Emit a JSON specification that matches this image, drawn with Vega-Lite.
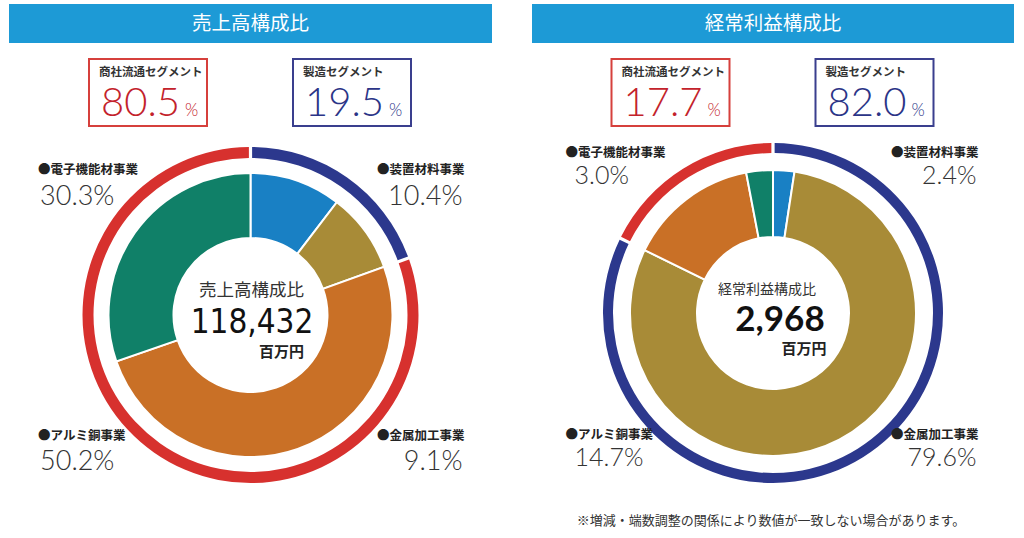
{
  "$schema": "https://vega.github.io/schema/vega-lite/v6.json",
  "padding": {"left": 9, "top": 4, "right": 0, "bottom": 0},
  "autosize": {"type": "pad"},
  "spacing": 40,
  "config": {"view": {"stroke": null}, "text": {"font": "Noto Sans CJK JP"}},
  "datasets": {
    "segments": [
      {"chart": "売上高構成比", "segment": "製造セグメント", "percent": 19.5},
      {"chart": "売上高構成比", "segment": "商社流通セグメント", "percent": 80.5},
      {"chart": "経常利益構成比", "segment": "製造セグメント", "percent": 82.0},
      {"chart": "経常利益構成比", "segment": "商社流通セグメント", "percent": 17.7}
    ],
    "businesses": [
      {"chart": "売上高構成比", "business": "装置材料事業", "ratio": 0.104},
      {"chart": "売上高構成比", "business": "金属加工事業", "ratio": 0.091},
      {"chart": "売上高構成比", "business": "アルミ銅事業", "ratio": 0.502},
      {"chart": "売上高構成比", "business": "電子機能材事業", "ratio": 0.303},
      {"chart": "経常利益構成比", "business": "装置材料事業", "ratio": 0.024},
      {"chart": "経常利益構成比", "business": "金属加工事業", "ratio": 0.796},
      {"chart": "経常利益構成比", "business": "アルミ銅事業", "ratio": 0.147},
      {"chart": "経常利益構成比", "business": "電子機能材事業", "ratio": 0.030}
    ],
    "totals": [
      {"chart": "売上高構成比", "total": 118432, "unit": "百万円"},
      {"chart": "経常利益構成比", "total": 2968, "unit": "百万円"}
    ],
    "notes": [
      {"note": "※増減・端数調整の関係により数値が一致しない場合があります。"}
    ]
  },
  "hconcat": [
    {
      "vconcat": [
        {
          "width": 483, "height": 39,
          "view": {"fill": "#1d9ad6", "stroke": null},
          "data": {"name": "totals"},
          "transform": [{"filter": {"field": "chart", "equal": "売上高構成比"}}],
          "mark": {"type": "text", "color": "#ffffff", "fontSize": 19.5, "baseline": "middle"},
          "encoding": {"text": {"field": "chart"}}
        },
        {
          "hconcat": [
            {
              "width": 118, "height": 67,
              "view": {"stroke": "#d6403c", "strokeWidth": 2, "fill": "#ffffff"},
              "data": {"name": "segments"},
              "transform": [{"filter": {"and": [{"field": "chart", "equal": "売上高構成比"}, {"field": "segment", "equal": "商社流通セグメント"}]}}],
              "layer": [
                {"mark": {"type": "text", "align": "left", "baseline": "middle", "dx": -49, "dy": -19.5, "fontSize": 11.5, "fontWeight": "bold", "color": "#333333"}, "encoding": {"text": {"field": "segment"}}},
                {"mark": {"type": "text", "align": "left", "baseline": "alphabetic", "dx": -47, "dy": 23.5, "fontSize": 40, "font": "Lato", "fontWeight": 300, "color": "#c3222b"}, "encoding": {"text": {"field": "percent", "type": "quantitative", "format": ".1f"}}},
                {"mark": {"type": "text", "align": "left", "baseline": "alphabetic", "dx": 37, "dy": 23.5, "fontSize": 17, "font": "Lato", "fontWeight": 300, "color": "#c3222b"}, "encoding": {"text": {"value": "%"}}}
              ]
            },
            {
              "width": 118, "height": 67,
              "view": {"stroke": "#3a3f8e", "strokeWidth": 2, "fill": "#ffffff"},
              "data": {"name": "segments"},
              "transform": [{"filter": {"and": [{"field": "chart", "equal": "売上高構成比"}, {"field": "segment", "equal": "製造セグメント"}]}}],
              "layer": [
                {"mark": {"type": "text", "align": "left", "baseline": "middle", "dx": -49, "dy": -19.5, "fontSize": 11.5, "fontWeight": "bold", "color": "#333333"}, "encoding": {"text": {"field": "segment"}}},
                {"mark": {"type": "text", "align": "left", "baseline": "alphabetic", "dx": -47, "dy": 23.5, "fontSize": 40, "font": "Lato", "fontWeight": 300, "color": "#2b3487"}, "encoding": {"text": {"field": "percent", "type": "quantitative", "format": ".1f"}}},
                {"mark": {"type": "text", "align": "left", "baseline": "alphabetic", "dx": 37, "dy": 23.5, "fontSize": 17, "font": "Lato", "fontWeight": 300, "color": "#2b3487"}, "encoding": {"text": {"value": "%"}}}
              ]
            }
          ],
          "spacing": 86,
          "bounds": "flush"
        },
        {
          "width": 483, "height": 346,
          "resolve": {"scale": {"theta": "independent"}},
          "layer": [
            {
              "data": {"name": "segments"},
              "transform": [{"filter": {"field": "chart", "equal": "売上高構成比"}}, {"window": [{"op": "row_number", "as": "rank"}]}],
              "mark": {"type": "arc", "innerRadius": 157, "outerRadius": 168, "padAngle": 0.014},
              "encoding": {
                "theta": {"field": "percent", "type": "quantitative", "stack": true},
                "order": {"field": "rank", "type": "quantitative"},
                "color": {"field": "segment", "type": "nominal", "legend": null,
                  "scale": {"domain": ["製造セグメント", "商社流通セグメント", "装置材料事業", "金属加工事業", "アルミ銅事業", "電子機能材事業"],
                            "range": ["#2c388d", "#d7312e", "#1980c4", "#a88b37", "#c97026", "#108068"]}}
              }
            },
            {
              "data": {"name": "businesses"},
              "transform": [{"filter": {"field": "chart", "equal": "売上高構成比"}}, {"window": [{"op": "row_number", "as": "rank"}]}],
              "mark": {"type": "arc", "innerRadius": 77, "outerRadius": 142, "stroke": "#ffffff", "strokeWidth": 2},
              "encoding": {
                "theta": {"field": "ratio", "type": "quantitative", "stack": true},
                "order": {"field": "rank", "type": "quantitative"},
                "color": {"field": "business", "type": "nominal", "legend": null,
                  "scale": {"domain": ["製造セグメント", "商社流通セグメント", "装置材料事業", "金属加工事業", "アルミ銅事業", "電子機能材事業"],
                            "range": ["#2c388d", "#d7312e", "#1980c4", "#a88b37", "#c97026", "#108068"]}}
              }
            },
            {
              "data": {"name": "totals"},
              "transform": [{"filter": {"field": "chart", "equal": "売上高構成比"}}],
              "mark": {"type": "text", "fontSize": 17.5, "color": "#333333", "baseline": "middle", "dx": 1, "dy": -24},
              "encoding": {"text": {"field": "chart"}}
            },
            {
              "data": {"name": "totals"},
              "transform": [{"filter": {"field": "chart", "equal": "売上高構成比"}}],
              "mark": {"type": "text", "font": "DejaVu Sans Condensed, Roboto", "fontSize": 33, "color": "#111111", "baseline": "alphabetic", "dx": 1.5, "dy": 18},
              "encoding": {"text": {"field": "total", "type": "quantitative", "format": ","}}
            },
            {
              "data": {"name": "totals"},
              "transform": [{"filter": {"field": "chart", "equal": "売上高構成比"}}],
              "mark": {"type": "text", "fontSize": 15, "fontWeight": "bold", "color": "#222222", "align": "right", "baseline": "middle", "dx": 53.5, "dy": 37},
              "encoding": {"text": {"field": "unit"}}
            },
            {
              "data": {"name": "businesses"},
              "transform": [{"filter": {"field": "chart", "equal": "売上高構成比"}}, {"filter": {"field": "business", "oneOf": ["アルミ銅事業", "電子機能材事業"]}}],
              "mark": {"type": "text", "radius": 188, "align": "left", "baseline": "middle", "dx": -79.5, "dy": -12, "fontSize": 12.5, "color": "#222222"},
              "encoding": {
                "theta": {"field": "business", "type": "nominal", "scale": {"type": "point", "domain": ["装置材料事業", "金属加工事業", "アルミ銅事業", "電子機能材事業"], "padding": 0.5}},
                "text": {"value": "●"}
              }
            },
            {
              "data": {"name": "businesses"},
              "transform": [{"filter": {"field": "chart", "equal": "売上高構成比"}}, {"filter": {"field": "business", "oneOf": ["アルミ銅事業", "電子機能材事業"]}}],
              "mark": {"type": "text", "radius": 188, "align": "left", "baseline": "middle", "dx": -67, "dy": -12, "fontSize": 12.5, "fontWeight": "bold", "color": "#222222"},
              "encoding": {
                "theta": {"field": "business", "type": "nominal", "scale": {"type": "point", "domain": ["装置材料事業", "金属加工事業", "アルミ銅事業", "電子機能材事業"], "padding": 0.5}},
                "text": {"field": "business"}
              }
            },
            {
              "data": {"name": "businesses"},
              "transform": [{"filter": {"field": "chart", "equal": "売上高構成比"}}, {"filter": {"field": "business", "oneOf": ["アルミ銅事業", "電子機能材事業"]}}],
              "mark": {"type": "text", "radius": 188, "align": "left", "baseline": "middle", "dx": -77.5, "dy": 14.5, "fontSize": 27, "font": "Lato", "fontWeight": 300, "color": "#333333"},
              "encoding": {
                "theta": {"field": "business", "type": "nominal", "scale": {"type": "point", "domain": ["装置材料事業", "金属加工事業", "アルミ銅事業", "電子機能材事業"], "padding": 0.5}},
                "text": {"field": "ratio", "type": "quantitative", "format": ".1%"}
              }
            },
            {
              "data": {"name": "businesses"},
              "transform": [{"filter": {"field": "chart", "equal": "売上高構成比"}}, {"filter": {"field": "business", "oneOf": ["装置材料事業", "金属加工事業"]}}],
              "mark": {"type": "text", "radius": 188, "align": "right", "baseline": "middle", "dx": 6, "dy": -12, "fontSize": 12.5, "color": "#222222"},
              "encoding": {
                "theta": {"field": "business", "type": "nominal", "scale": {"type": "point", "domain": ["装置材料事業", "金属加工事業", "アルミ銅事業", "電子機能材事業"], "padding": 0.5}},
                "text": {"value": "●"}
              }
            },
            {
              "data": {"name": "businesses"},
              "transform": [{"filter": {"field": "chart", "equal": "売上高構成比"}}, {"filter": {"field": "business", "oneOf": ["装置材料事業", "金属加工事業"]}}],
              "mark": {"type": "text", "radius": 188, "align": "right", "baseline": "middle", "dx": 81, "dy": -12, "fontSize": 12.5, "fontWeight": "bold", "color": "#222222"},
              "encoding": {
                "theta": {"field": "business", "type": "nominal", "scale": {"type": "point", "domain": ["装置材料事業", "金属加工事業", "アルミ銅事業", "電子機能材事業"], "padding": 0.5}},
                "text": {"field": "business"}
              }
            },
            {
              "data": {"name": "businesses"},
              "transform": [{"filter": {"field": "chart", "equal": "売上高構成比"}}, {"filter": {"field": "business", "oneOf": ["装置材料事業", "金属加工事業"]}}],
              "mark": {"type": "text", "radius": 188, "align": "right", "baseline": "middle", "dx": 79, "dy": 14.5, "fontSize": 27, "font": "Lato", "fontWeight": 300, "color": "#333333"},
              "encoding": {
                "theta": {"field": "business", "type": "nominal", "scale": {"type": "point", "domain": ["装置材料事業", "金属加工事業", "アルミ銅事業", "電子機能材事業"], "padding": 0.5}},
                "text": {"field": "ratio", "type": "quantitative", "format": ".1%"}
              }
            }
          ]
        }
      ],
      "spacing": 15,
      "center": true
    },
    {
      "vconcat": [
        {
          "width": 482, "height": 39,
          "view": {"fill": "#1d9ad6", "stroke": null},
          "data": {"name": "totals"},
          "transform": [{"filter": {"field": "chart", "equal": "経常利益構成比"}}],
          "mark": {"type": "text", "color": "#ffffff", "fontSize": 19.5, "baseline": "middle"},
          "encoding": {"text": {"field": "chart"}}
        },
        {
          "hconcat": [
            {
              "width": 118, "height": 67,
              "view": {"stroke": "#d6403c", "strokeWidth": 2, "fill": "#ffffff"},
              "data": {"name": "segments"},
              "transform": [{"filter": {"and": [{"field": "chart", "equal": "経常利益構成比"}, {"field": "segment", "equal": "商社流通セグメント"}]}}],
              "layer": [
                {"mark": {"type": "text", "align": "left", "baseline": "middle", "dx": -49, "dy": -19.5, "fontSize": 11.5, "fontWeight": "bold", "color": "#333333"}, "encoding": {"text": {"field": "segment"}}},
                {"mark": {"type": "text", "align": "left", "baseline": "alphabetic", "dx": -47, "dy": 23.5, "fontSize": 40, "font": "Lato", "fontWeight": 300, "color": "#c3222b"}, "encoding": {"text": {"field": "percent", "type": "quantitative", "format": ".1f"}}},
                {"mark": {"type": "text", "align": "left", "baseline": "alphabetic", "dx": 37, "dy": 23.5, "fontSize": 17, "font": "Lato", "fontWeight": 300, "color": "#c3222b"}, "encoding": {"text": {"value": "%"}}}
              ]
            },
            {
              "width": 118, "height": 67,
              "view": {"stroke": "#3a3f8e", "strokeWidth": 2, "fill": "#ffffff"},
              "data": {"name": "segments"},
              "transform": [{"filter": {"and": [{"field": "chart", "equal": "経常利益構成比"}, {"field": "segment", "equal": "製造セグメント"}]}}],
              "layer": [
                {"mark": {"type": "text", "align": "left", "baseline": "middle", "dx": -49, "dy": -19.5, "fontSize": 11.5, "fontWeight": "bold", "color": "#333333"}, "encoding": {"text": {"field": "segment"}}},
                {"mark": {"type": "text", "align": "left", "baseline": "alphabetic", "dx": -47, "dy": 23.5, "fontSize": 40, "font": "Lato", "fontWeight": 300, "color": "#2b3487"}, "encoding": {"text": {"field": "percent", "type": "quantitative", "format": ".1f"}}},
                {"mark": {"type": "text", "align": "left", "baseline": "alphabetic", "dx": 37, "dy": 23.5, "fontSize": 17, "font": "Lato", "fontWeight": 300, "color": "#2b3487"}, "encoding": {"text": {"value": "%"}}}
              ]
            }
          ],
          "spacing": 86,
          "bounds": "flush"
        },
        {
          "width": 482, "height": 342,
          "resolve": {"scale": {"theta": "independent"}},
          "layer": [
            {
              "data": {"name": "segments"},
              "transform": [{"filter": {"field": "chart", "equal": "経常利益構成比"}}, {"window": [{"op": "row_number", "as": "rank"}]}],
              "mark": {"type": "arc", "innerRadius": 160, "outerRadius": 170, "padAngle": 0.014},
              "encoding": {
                "theta": {"field": "percent", "type": "quantitative", "stack": true},
                "order": {"field": "rank", "type": "quantitative"},
                "color": {"field": "segment", "type": "nominal", "legend": null,
                  "scale": {"domain": ["製造セグメント", "商社流通セグメント", "装置材料事業", "金属加工事業", "アルミ銅事業", "電子機能材事業"],
                            "range": ["#2c388d", "#d7312e", "#1980c4", "#a88b37", "#c97026", "#108068"]}}
              }
            },
            {
              "data": {"name": "businesses"},
              "transform": [{"filter": {"field": "chart", "equal": "経常利益構成比"}}, {"window": [{"op": "row_number", "as": "rank"}]}],
              "mark": {"type": "arc", "innerRadius": 76, "outerRadius": 143, "stroke": "#ffffff", "strokeWidth": 2},
              "encoding": {
                "theta": {"field": "ratio", "type": "quantitative", "stack": true},
                "order": {"field": "rank", "type": "quantitative"},
                "color": {"field": "business", "type": "nominal", "legend": null,
                  "scale": {"domain": ["製造セグメント", "商社流通セグメント", "装置材料事業", "金属加工事業", "アルミ銅事業", "電子機能材事業"],
                            "range": ["#2c388d", "#d7312e", "#1980c4", "#a88b37", "#c97026", "#108068"]}}
              }
            },
            {
              "data": {"name": "totals"},
              "transform": [{"filter": {"field": "chart", "equal": "経常利益構成比"}}],
              "mark": {"type": "text", "fontSize": 14, "color": "#333333", "baseline": "middle", "dx": -6, "dy": -23},
              "encoding": {"text": {"field": "chart"}}
            },
            {
              "data": {"name": "totals"},
              "transform": [{"filter": {"field": "chart", "equal": "経常利益構成比"}}],
              "mark": {"type": "text", "font": "Lato", "fontWeight": "bold", "fontSize": 35, "color": "#111111", "baseline": "alphabetic", "dx": 7, "dy": 18},
              "encoding": {"text": {"field": "total", "type": "quantitative", "format": ","}}
            },
            {
              "data": {"name": "totals"},
              "transform": [{"filter": {"field": "chart", "equal": "経常利益構成比"}}],
              "mark": {"type": "text", "fontSize": 15, "fontWeight": "bold", "color": "#222222", "align": "right", "baseline": "middle", "dx": 53.5, "dy": 36},
              "encoding": {"text": {"field": "unit"}}
            },
            {
              "data": {"name": "businesses"},
              "transform": [{"filter": {"field": "chart", "equal": "経常利益構成比"}}, {"filter": {"field": "business", "oneOf": ["アルミ銅事業", "電子機能材事業"]}}],
              "mark": {"type": "text", "radius": 200, "align": "left", "baseline": "middle", "dx": -66, "dy": -19, "fontSize": 12.5, "color": "#222222"},
              "encoding": {
                "theta": {"field": "business", "type": "nominal", "scale": {"type": "point", "domain": ["装置材料事業", "金属加工事業", "アルミ銅事業", "電子機能材事業"], "padding": 0.5}},
                "text": {"value": "●"}
              }
            },
            {
              "data": {"name": "businesses"},
              "transform": [{"filter": {"field": "chart", "equal": "経常利益構成比"}}, {"filter": {"field": "business", "oneOf": ["アルミ銅事業", "電子機能材事業"]}}],
              "mark": {"type": "text", "radius": 200, "align": "left", "baseline": "middle", "dx": -53.5, "dy": -19, "fontSize": 12.5, "fontWeight": "bold", "color": "#222222"},
              "encoding": {
                "theta": {"field": "business", "type": "nominal", "scale": {"type": "point", "domain": ["装置材料事業", "金属加工事業", "アルミ銅事業", "電子機能材事業"], "padding": 0.5}},
                "text": {"field": "business"}
              }
            },
            {
              "data": {"name": "businesses"},
              "transform": [{"filter": {"field": "chart", "equal": "経常利益構成比"}}, {"filter": {"field": "business", "oneOf": ["アルミ銅事業", "電子機能材事業"]}}],
              "mark": {"type": "text", "radius": 200, "align": "left", "baseline": "middle", "dx": -57, "dy": 4, "fontSize": 25, "font": "Lato", "fontWeight": 300, "color": "#333333"},
              "encoding": {
                "theta": {"field": "business", "type": "nominal", "scale": {"type": "point", "domain": ["装置材料事業", "金属加工事業", "アルミ銅事業", "電子機能材事業"], "padding": 0.5}},
                "text": {"field": "ratio", "type": "quantitative", "format": ".1%"}
              }
            },
            {
              "data": {"name": "businesses"},
              "transform": [{"filter": {"field": "chart", "equal": "経常利益構成比"}}, {"filter": {"field": "business", "oneOf": ["装置材料事業", "金属加工事業"]}}],
              "mark": {"type": "text", "radius": 200, "align": "right", "baseline": "middle", "dx": -11, "dy": -19, "fontSize": 12.5, "color": "#222222"},
              "encoding": {
                "theta": {"field": "business", "type": "nominal", "scale": {"type": "point", "domain": ["装置材料事業", "金属加工事業", "アルミ銅事業", "電子機能材事業"], "padding": 0.5}},
                "text": {"value": "●"}
              }
            },
            {
              "data": {"name": "businesses"},
              "transform": [{"filter": {"field": "chart", "equal": "経常利益構成比"}}, {"filter": {"field": "business", "oneOf": ["装置材料事業", "金属加工事業"]}}],
              "mark": {"type": "text", "radius": 200, "align": "right", "baseline": "middle", "dx": 64, "dy": -19, "fontSize": 12.5, "fontWeight": "bold", "color": "#222222"},
              "encoding": {
                "theta": {"field": "business", "type": "nominal", "scale": {"type": "point", "domain": ["装置材料事業", "金属加工事業", "アルミ銅事業", "電子機能材事業"], "padding": 0.5}},
                "text": {"field": "business"}
              }
            },
            {
              "data": {"name": "businesses"},
              "transform": [{"filter": {"field": "chart", "equal": "経常利益構成比"}}, {"filter": {"field": "business", "oneOf": ["装置材料事業", "金属加工事業"]}}],
              "mark": {"type": "text", "radius": 200, "align": "right", "baseline": "middle", "dx": 62, "dy": 4, "fontSize": 25, "font": "Lato", "fontWeight": 300, "color": "#333333"},
              "encoding": {
                "theta": {"field": "business", "type": "nominal", "scale": {"type": "point", "domain": ["装置材料事業", "金属加工事業", "アルミ銅事業", "電子機能材事業"], "padding": 0.5}},
                "text": {"field": "ratio", "type": "quantitative", "format": ".1%"}
              }
            },
            {
              "data": {"name": "notes"},
              "mark": {"type": "text", "fontSize": 13, "color": "#333333", "baseline": "middle", "dx": -2, "dy": 208},
              "encoding": {"text": {"field": "note"}}
            }
          ]
        }
      ],
      "spacing": 15,
      "center": true
    }
  ]
}
